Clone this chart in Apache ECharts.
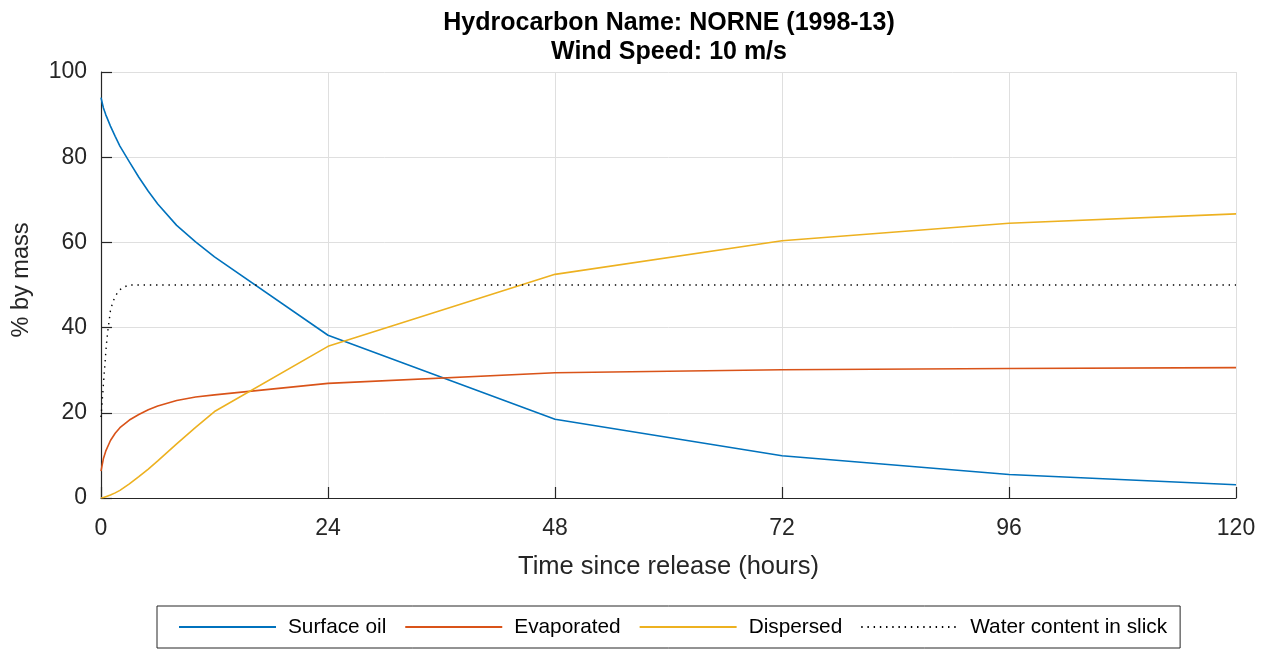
<!DOCTYPE html>
<html>
<head>
<meta charset="utf-8">
<script src="https://cdn.jsdelivr.net/npm/echarts@6/dist/echarts.min.js"></script>
<style>
html,body{margin:0;padding:0;background:#fff;}
#chart{width:1267px;height:649px;}
</style>
</head>
<body>
<div id="chart"></div>
<script>
// ---- data ----
var timeHours   = [0, 0.25, 0.5, 1, 1.5, 2, 3, 4, 5, 6, 8, 10, 12, 24, 48, 72, 96, 120];
var surfaceOil  = [94.0, 91.6, 90.0, 87.3, 84.9, 82.6, 78.9, 75.3, 72.0, 69.0, 64.0, 60.1, 56.6, 38.2, 18.5, 9.9, 5.5, 3.1];
var evaporated  = [6.3, 9.2, 11.0, 13.5, 15.2, 16.5, 18.3, 19.6, 20.7, 21.6, 22.9, 23.7, 24.2, 26.9, 29.4, 30.1, 30.4, 30.6];
var dispersed   = [0, 0.1, 0.3, 0.7, 1.2, 1.8, 3.3, 5.0, 6.8, 8.7, 12.7, 16.6, 20.3, 35.6, 52.5, 60.4, 64.5, 66.7];
var waterTime    = [0, 0.1, 0.2, 0.3, 0.4, 0.5, 0.6, 0.75, 0.9, 1.0, 1.25, 1.5, 1.75, 2.0, 2.5, 3.0, 120];
var waterContent = [19, 22, 25, 28, 31, 34, 36.7, 39.7, 42.3, 44, 46, 47.3, 48.2, 48.9, 49.6, 50, 50];
var seriesNames = ['Surface oil', 'Evaporated', 'Dispersed', 'Water content in slick'];
var xTicks = [0, 24, 48, 72, 96, 120];
var yTicks = [0, 20, 40, 60, 80, 100];
var titleLines = ['Hydrocarbon Name: NORNE (1998-13)', 'Wind Speed: 10 m/s'];
var xAxisName = 'Time since release (hours)';
var yAxisName = '% by mass';

function zip(xs, ys) { return xs.map(function (x, i) { return [x, ys[i]]; }); }

var FONT = '"Liberation Sans", Arial, Helvetica, sans-serif';
var AX = '#262626';

var chart = echarts.init(document.getElementById('chart'), null, {renderer: 'canvas'});
chart.setOption({
  animation: false,
  backgroundColor: '#ffffff',
  title: {
    text: titleLines.join('\n'),
    left: 669,
    top: 8,
    textAlign: 'center',
    padding: 0,
    textStyle: {fontFamily: FONT, fontWeight: 'bold', fontSize: 25, color: '#000', lineHeight: 29.5}
  },
  grid: {left: 101, top: 72, width: 1135, height: 426, containLabel: false},
  xAxis: {
    type: 'value', min: xTicks[0], max: xTicks[xTicks.length - 1], interval: 24,
    name: xAxisName, nameLocation: 'middle', nameGap: 56,
    nameTextStyle: {fontFamily: FONT, fontSize: 25.5, color: AX},
    axisLine: {show: true, lineStyle: {color: AX, width: 1.2}},
    axisTick: {show: true, inside: true, length: 11, lineStyle: {color: AX, width: 1.2}},
    axisLabel: {fontFamily: FONT, fontSize: 23, color: AX, margin: 19},
    splitLine: {show: true, lineStyle: {color: '#dfdfdf', width: 1}}
  },
  yAxis: {
    type: 'value', min: yTicks[0], max: yTicks[yTicks.length - 1], interval: 20,
    name: yAxisName, nameLocation: 'middle', nameGap: 67, nameRotate: 90,
    nameTextStyle: {fontFamily: FONT, fontSize: 23.5, color: AX, padding: [0, 0, 0, 10]},
    axisLine: {show: true, lineStyle: {color: AX, width: 1.2}},
    axisTick: {show: true, inside: true, length: 11, lineStyle: {color: AX, width: 1.2}},
    axisLabel: {fontFamily: FONT, fontSize: 23, color: AX, margin: 14, padding: [7, 0, 0, 0]},
    splitLine: {show: true, lineStyle: {color: '#dfdfdf', width: 1}}
  },
  legend: {
    left: 157, top: 606,
    orient: 'horizontal',
    padding: [9, 13, 9, 21],
    itemGap: 18,
    itemWidth: 97,
    itemHeight: 14,
    borderColor: AX, borderWidth: 1, borderRadius: 0,
    backgroundColor: '#fff',
    itemStyle: {opacity: 0},
    textStyle: {fontFamily: FONT, fontSize: 20.8, color: '#000', lineHeight: 24, padding: [0, 0, 0, 7]},
    data: seriesNames
  },
  series: [
    {name: seriesNames[0], type: 'line', data: zip(timeHours, surfaceOil), symbol: 'none', showSymbol: false,
     lineStyle: {color: '#0072BD', width: 1.6}, itemStyle: {color: '#0072BD'}},
    {name: seriesNames[1], type: 'line', data: zip(timeHours, evaporated), symbol: 'none', showSymbol: false,
     lineStyle: {color: '#D95319', width: 1.6}, itemStyle: {color: '#D95319'}},
    {name: seriesNames[2], type: 'line', data: zip(timeHours, dispersed), symbol: 'none', showSymbol: false,
     lineStyle: {color: '#EDB120', width: 1.6}, itemStyle: {color: '#EDB120'}},
    {name: seriesNames[3], type: 'line', data: zip(waterTime, waterContent), symbol: 'none', showSymbol: false,
     lineStyle: {color: '#000000', width: 1.4, type: [1.4, 4.8]}, itemStyle: {color: '#000000'}}
  ]
});
</script>
</body>
</html>
